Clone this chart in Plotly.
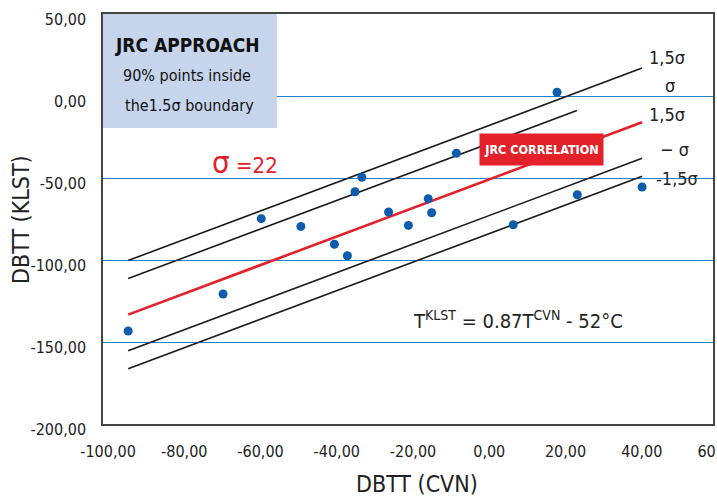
import plotly.graph_objects as go

# ---- data ----
cvn = [-93.4, -68.5, -58.5, -48.1, -39.3, -35.9, -33.9, -32.1, -25.1, -19.9,
       -14.7, -13.8, -7.3, 7.6, 19.1, 24.4, 41.4]
klst = [-143.3, -120.7, -74.8, -79.5, -90.4, -97.4, -58.4, -49.6, -70.7, -78.9,
        -62.6, -71.2, -34.9, -78.5, 2.3, -60.2, -55.5]

line_x_plus15 = [-93.4, 41.4]
line_y_plus15 = [-100.3, 17.0]
line_x_plus1 = [-93.4, 24.3]
line_y_plus1 = [-111.3, -8.9]
line_x_corr = [-93.4, 41.4]
line_y_corr = [-133.3, -16.0]
line_x_minus1 = [-93.4, 41.4]
line_y_minus1 = [-155.3, -38.0]
line_x_minus15 = [-93.4, 41.4]
line_y_minus15 = [-166.3, -49.0]

x_ticks = [-100, -80, -60, -40, -20, 0, 20, 40, 60]
x_ticktext = ["-100,00", "-80,00", "-60,00", "-40,00", "-20,00", "0,00", "20,00", "40,00", "60,00"]
y_ticks = [-200, -150, -100, -50, 0, 50]
y_ticktext = ["-200,00", "-150,00", "-100,00", "-50,00", "0,00", "50,00"]

FONT = "Liberation Sans Narrow, DejaVu Sans Condensed, Arial Narrow, sans-serif"
BLUE_GRID = "#1f80cc"
RED = "#e3212b"

fig = go.Figure()
for lx, ly in [(line_x_plus15, line_y_plus15), (line_x_plus1, line_y_plus1),
               (line_x_minus1, line_y_minus1), (line_x_minus15, line_y_minus15)]:
    fig.add_trace(go.Scatter(x=lx, y=ly, mode="lines",
                             line=dict(color="#1a1a1a", width=1.6), hoverinfo="skip"))
fig.add_trace(go.Scatter(x=line_x_corr, y=line_y_corr, mode="lines",
                         line=dict(color=RED, width=2.6), hoverinfo="skip"))
fig.add_trace(go.Scatter(x=cvn, y=klst, mode="markers",
                         marker=dict(color="#0b5cad", size=9)))

# JRC approach box
fig.add_shape(type="rect", x0=-100, x1=-54.4, y0=-19.5, y1=50, xref="x", yref="y",
              fillcolor="#c6d5ec", line=dict(width=0), layer="between")

ann = []
ann.append(dict(x=-77.8, y=31.4, text="<b>JRC APPROACH</b>", showarrow=False,
                font=dict(family=FONT, size=19, color="#111")))
ann.append(dict(x=-78.0, y=12.5, text="90% points inside", showarrow=False,
                font=dict(family=FONT, size=16, color="#111")))
ann.append(dict(x=-77.3, y=-6.0, text="the1.5σ boundary", showarrow=False,
                font=dict(family=FONT, size=16, color="#111")))
ann.append(dict(x=-62.8, y=-40.2, text="<span style='font-size:31px'>σ</span> =22", showarrow=False,
                font=dict(family=FONT, size=22, color=RED)))
ann.append(dict(x=15.1, y=-32.9, text="<b>JRC CORRELATION</b>", showarrow=False,
                font=dict(family=FONT, size=12.5, color="white"), bgcolor=RED,
                width=119, height=27, borderpad=2))
ann.append(dict(x=8.9, y=-136.6, text="T<sup>KLST</sup> = 0.87T<sup>CVN</sup> - 52°C", showarrow=False,
                font=dict(family=FONT, size=20, color="#222")))
for tx, ty, t in [(42.7, 23.2, "1,5σ"), (47.0, 6.7, "σ"), (42.7, -11.0, "1,5σ"),
                  (45.6, -32.9, "− σ"), (44.5, -50.0, "-1,5σ")]:
    ann.append(dict(x=tx, y=ty, text=t, showarrow=False, xanchor="left",
                    font=dict(family=FONT, size=18, color="#222")))
# axis titles
ann.append(dict(x=0.515, y=0, xref="paper", yref="paper", yshift=-60, text="DBTT (CVN)",
                xanchor="center", yanchor="middle",
                showarrow=False, font=dict(family=FONT, size=23, color="#222")))
ann.append(dict(x=0, y=0.4976, xref="paper", yref="paper", xshift=-82, text="DBTT (KLST)",
                xanchor="center", yanchor="middle",
                textangle=-90, showarrow=False, font=dict(family=FONT, size=23, color="#222")))

fig.update_layout(
    width=717, height=498,
    margin=dict(l=103, r=4, t=14, b=74, autoexpand=False),
    paper_bgcolor="white", plot_bgcolor="white",
    showlegend=False,
    annotations=ann,
    font=dict(family=FONT, size=16, color="#222"),
)
fig.update_xaxes(range=[-100, 60], tickvals=x_ticks, ticktext=x_ticktext,
                 showgrid=False, zeroline=False, showline=True, linecolor="#444",
                 linewidth=1.5, mirror=True, ticks="outside", ticklen=12,
                 tickcolor="rgba(0,0,0,0)", ticklabelshift=5, ticklabeloverflow="allow",
                 automargin=False,
                 tickfont=dict(family=FONT, size=16, color="#222"))
fig.update_yaxes(range=[-200, 50], tickvals=y_ticks, ticktext=y_ticktext,
                 showgrid=True, gridcolor=BLUE_GRID, gridwidth=1, zeroline=False,
                 showline=True, linecolor="#444", linewidth=1.5, mirror=True,
                 ticks="outside", ticklen=12, tickcolor="rgba(0,0,0,0)", ticklabelshift=5,
                 ticklabeloverflow="allow", automargin=False,
                 tickfont=dict(family=FONT, size=16, color="#222"))

fig.write_html("out.html")
